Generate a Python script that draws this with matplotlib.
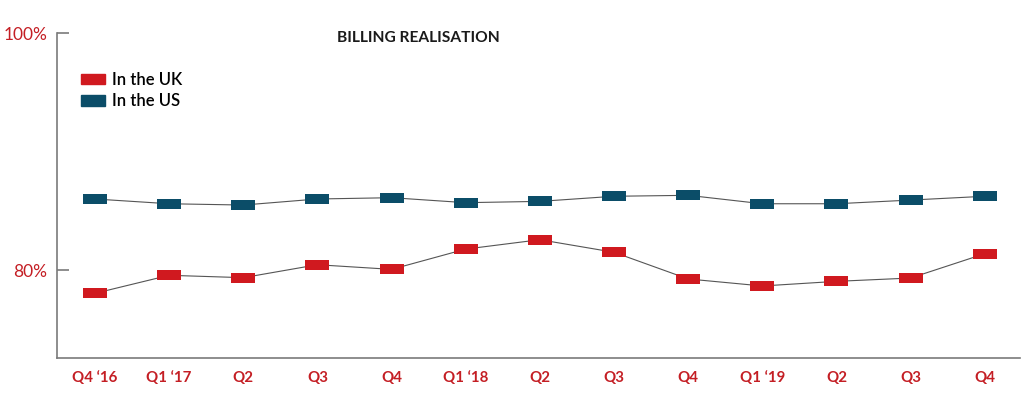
import matplotlib
matplotlib.use("Agg")
import matplotlib.pyplot as plt
import matplotlib.patches as mpatches
import numpy as np

# Quarter labels along the x axis
quarters = ["Q4 \u201816", "Q1 \u201817", "Q2", "Q3", "Q4", "Q1 \u201818", "Q2",
            "Q3", "Q4", "Q1 \u201819", "Q2", "Q3", "Q4"]

# Billing realisation (%)
uk_values = [78.06, 79.58, 79.38, 80.47, 80.08, 81.79, 82.58,
             81.52, 79.27, 78.68, 79.07, 79.35, 81.40]
us_values = [86.01, 85.61, 85.50, 86.01, 86.12, 85.70, 85.81,
             86.24, 86.32, 85.61, 85.61, 85.92, 86.24]

y_ticks = [80, 100]
y_tick_labels = ["80%", "100%"]

red = "#d0191f"
teal = "#0b4d68"
label_red = "#c41e24"
axis_grey = "#7a7a7a"

plt.rcParams["font.family"] = ["Lato", "DejaVu Sans"]

fig = plt.figure(figsize=(10.24, 3.98), dpi=100)
ax = fig.add_axes([57 / 1024, 40 / 398, (1020 - 57) / 1024, (358 - 33) / 398])

# flat rectangular marker
rect_marker = [(-1, -0.39), (1, -0.39), (1, 0.39), (-1, 0.39), (-1, -0.39)]

x = np.arange(len(quarters))
for vals, col in [(us_values, teal), (uk_values, red)]:
    ax.plot(x, vals, color="#555555", linewidth=0.8, zorder=2)
    ax.plot(x, vals, linestyle="none", marker=rect_marker, markersize=16.8,
            markerfacecolor=col, markeredgewidth=0, zorder=3)

ax.set_xlim(-0.512, 12.475)
ax.set_ylim(72.61, 100)

ax.spines["top"].set_visible(False)
ax.spines["right"].set_visible(False)
for s in ["left", "bottom"]:
    ax.spines[s].set_color(axis_grey)
    ax.spines[s].set_linewidth(1.2)

ax.set_xticks(x)
ax.set_xticklabels(quarters, color=label_red, fontsize=10.8, fontweight="bold")
ax.tick_params(axis="x", length=0, pad=9)

ax.set_yticks(y_ticks)
ax.set_yticklabels(y_tick_labels, color=label_red, fontsize=12.5)
ax.tick_params(axis="y", direction="in", length=8.5, width=1.2, color=axis_grey, pad=7)

ax.text(0.291, 0.985, "BILLING REALISATION", transform=ax.transAxes,
        fontsize=11.2, fontweight="bold", color="#1a1a1a", ha="left", va="center")

handles = [mpatches.Patch(color=red, label="In the UK"),
           mpatches.Patch(color=teal, label="In the US")]
ax.legend(handles=handles, loc="upper left", bbox_to_anchor=(0.025, 0.88),
          frameon=False, prop={"size": 12, "weight": "semibold"},
          handlelength=1.45, handleheight=0.6,
          handletextpad=0.4, labelspacing=0.32, borderaxespad=0, borderpad=0)

fig.savefig("out.png", dpi=100)
